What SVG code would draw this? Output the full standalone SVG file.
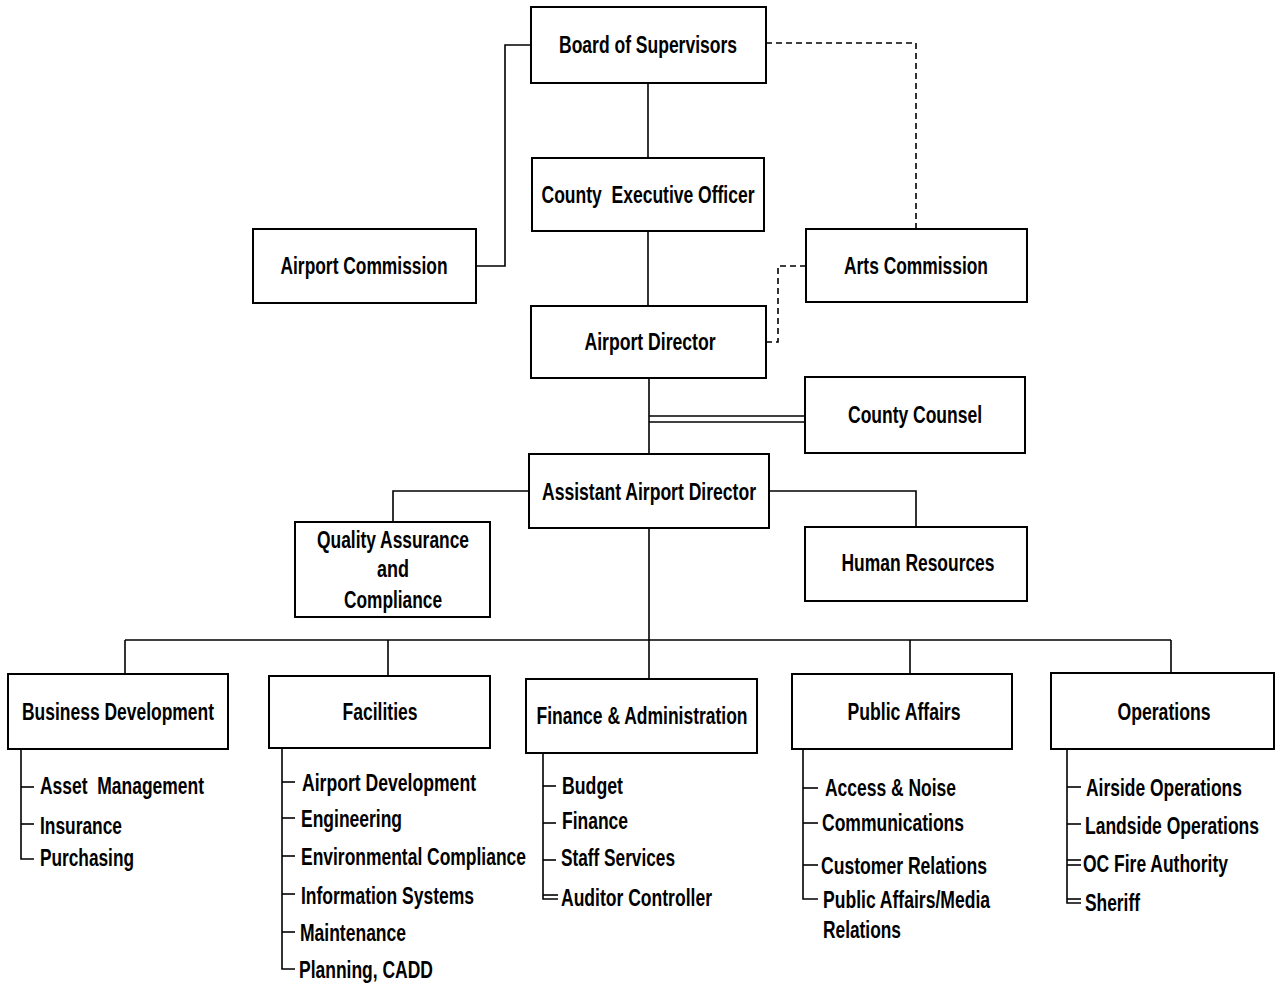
<svg xmlns="http://www.w3.org/2000/svg" width="1277" height="985" viewBox="0 0 1277 985">
<style>
.box{fill:#fff;stroke:#000;stroke-width:2}
.t{font-family:"Liberation Sans Narrow","Liberation Sans",Arial,sans-serif;font-weight:bold;font-size:23px;fill:#000}
.c{text-anchor:middle}
.ln{fill:none;stroke:#000;stroke-width:1.6}
.dash{fill:none;stroke:#000;stroke-width:1.6;stroke-dasharray:6 4}
</style>
<rect width="1277" height="985" fill="#fff"/>
<g id="connectors">
<polyline class="ln" points="531,45 505,45 505,266 476,266"/>
<polyline class="dash" points="766,43 916,43 916,229"/>
<line class="ln" x1="648" y1="83" x2="648" y2="158"/>
<line class="ln" x1="648" y1="231" x2="648" y2="306"/>
<polyline class="dash" points="806,266 778,266 778,342 766,342"/>
<line class="ln" x1="649" y1="378" x2="649" y2="454"/>
<line class="ln" x1="649" y1="416" x2="805" y2="416"/>
<line class="ln" x1="649" y1="422" x2="805" y2="422"/>
<polyline class="ln" points="529,491 393,491 393,522"/>
<polyline class="ln" points="769,491 916,491 916,527"/>
<line class="ln" x1="649" y1="528" x2="649" y2="640"/>
<line class="ln" x1="125" y1="640" x2="1171" y2="640"/>
<line class="ln" x1="125" y1="640" x2="125" y2="674"/>
<line class="ln" x1="388" y1="640" x2="388" y2="676"/>
<line class="ln" x1="649" y1="640" x2="649" y2="679"/>
<line class="ln" x1="910" y1="640" x2="910" y2="674"/>
<line class="ln" x1="1171" y1="640" x2="1171" y2="673"/>
<polyline class="ln" points="21,749 21,859 34,859"/>
<line class="ln" x1="21" y1="787" x2="34" y2="787"/>
<line class="ln" x1="21" y1="824" x2="34" y2="824"/>
<polyline class="ln" points="282,748 282,969 295,969"/>
<line class="ln" x1="282" y1="782" x2="295" y2="782"/>
<line class="ln" x1="282" y1="818" x2="295" y2="818"/>
<line class="ln" x1="282" y1="856" x2="295" y2="856"/>
<line class="ln" x1="282" y1="894" x2="295" y2="894"/>
<line class="ln" x1="282" y1="932" x2="295" y2="932"/>
<polyline class="ln" points="543,753 543,899 558,899"/>
<line class="ln" x1="543" y1="786" x2="556" y2="786"/>
<line class="ln" x1="543" y1="823" x2="556" y2="823"/>
<line class="ln" x1="543" y1="860" x2="556" y2="860"/>
<line class="ln" x1="543" y1="895" x2="558" y2="895"/>
<polyline class="ln" points="803,749 803,899 818,899"/>
<line class="ln" x1="803" y1="788" x2="818" y2="788"/>
<line class="ln" x1="803" y1="823" x2="818" y2="823"/>
<line class="ln" x1="803" y1="865" x2="818" y2="865"/>
<polyline class="ln" points="1067,749 1067,903 1081,903"/>
<line class="ln" x1="1067" y1="787" x2="1081" y2="787"/>
<line class="ln" x1="1067" y1="824" x2="1081" y2="824"/>
<line class="ln" x1="1067" y1="860" x2="1081" y2="860"/>
<line class="ln" x1="1067" y1="865" x2="1081" y2="865"/>
<line class="ln" x1="1067" y1="899" x2="1081" y2="899"/>
</g>
<g id="board"><rect class="box" x="531" y="7" width="235" height="76"/><text class="t c" transform="translate(648,52.5) scale(0.82,1)" textLength="217.1" lengthAdjust="spacingAndGlyphs">Board of Supervisors</text></g>
<g id="ceo"><rect class="box" x="532" y="158" width="232" height="73"/><text class="t c" transform="translate(648,202.5) scale(0.82,1)" textLength="259.8" lengthAdjust="spacingAndGlyphs" xml:space="preserve">County  Executive Officer</text></g>
<g id="airport-commission"><rect class="box" x="253" y="229" width="223" height="74"/><text class="t c" transform="translate(364,273.5) scale(0.82,1)" textLength="203.7" lengthAdjust="spacingAndGlyphs">Airport Commission</text></g>
<g id="arts-commission"><rect class="box" x="806" y="229" width="221" height="73"/><text class="t c" transform="translate(916,273.5) scale(0.82,1)" textLength="175.6" lengthAdjust="spacingAndGlyphs">Arts Commission</text></g>
<g id="airport-director"><rect class="box" x="531" y="306" width="235" height="72"/><text class="t c" transform="translate(650,349.5) scale(0.82,1)" textLength="159.8" lengthAdjust="spacingAndGlyphs">Airport Director</text></g>
<g id="county-counsel"><rect class="box" x="805" y="377" width="220" height="76"/><text class="t c" transform="translate(915,422.5) scale(0.82,1)" textLength="163.4" lengthAdjust="spacingAndGlyphs">County Counsel</text></g>
<g id="assistant-director"><rect class="box" x="529" y="454" width="240" height="74"/><text class="t c" transform="translate(649,499.5) scale(0.82,1)" textLength="261" lengthAdjust="spacingAndGlyphs">Assistant Airport Director</text></g>
<g id="quality-assurance"><rect class="box" x="295" y="522" width="195" height="95"/>
<text class="t c" transform="translate(393,547.5) scale(0.82,1)" textLength="185.4" lengthAdjust="spacingAndGlyphs">Quality Assurance</text>
<text class="t c" transform="translate(393,576.5) scale(0.82,1)" textLength="39" lengthAdjust="spacingAndGlyphs">and</text>
<text class="t c" transform="translate(393,607.5) scale(0.82,1)" textLength="119.5" lengthAdjust="spacingAndGlyphs">Compliance</text></g>
<g id="human-resources"><rect class="box" x="805" y="527" width="222" height="74"/><text class="t c" transform="translate(918,570.5) scale(0.82,1)" textLength="186.6" lengthAdjust="spacingAndGlyphs">Human Resources</text></g>
<g id="business-development"><rect class="box" x="8" y="674" width="220" height="75"/><text class="t c" transform="translate(118,719.5) scale(0.82,1)" textLength="234.1" lengthAdjust="spacingAndGlyphs">Business Development</text>
<text class="t" transform="translate(40,793.5) scale(0.82,1)" textLength="200" lengthAdjust="spacingAndGlyphs" xml:space="preserve">Asset  Management</text>
<text class="t" transform="translate(40,833.5) scale(0.82,1)" textLength="100" lengthAdjust="spacingAndGlyphs">Insurance</text>
<text class="t" transform="translate(40,865.5) scale(0.82,1)" textLength="114.6" lengthAdjust="spacingAndGlyphs">Purchasing</text></g>
<g id="facilities"><rect class="box" x="269" y="676" width="221" height="72"/><text class="t c" transform="translate(380,719.5) scale(0.82,1)" textLength="91.5" lengthAdjust="spacingAndGlyphs">Facilities</text>
<text class="t" transform="translate(302,790.5) scale(0.82,1)" textLength="212.2" lengthAdjust="spacingAndGlyphs">Airport Development</text>
<text class="t" transform="translate(301,826.5) scale(0.82,1)" textLength="123.2" lengthAdjust="spacingAndGlyphs">Engineering</text>
<text class="t" transform="translate(301,864.5) scale(0.82,1)" textLength="274.4" lengthAdjust="spacingAndGlyphs">Environmental Compliance</text>
<text class="t" transform="translate(301,903.5) scale(0.82,1)" textLength="211" lengthAdjust="spacingAndGlyphs">Information Systems</text>
<text class="t" transform="translate(300,940.5) scale(0.82,1)" textLength="129.3" lengthAdjust="spacingAndGlyphs">Maintenance</text>
<text class="t" transform="translate(299,977.5) scale(0.82,1)" textLength="163.4" lengthAdjust="spacingAndGlyphs">Planning, CADD</text></g>
<g id="finance-administration"><rect class="box" x="526" y="679" width="231" height="74"/><text class="t c" transform="translate(642,723.5) scale(0.82,1)" textLength="257.3" lengthAdjust="spacingAndGlyphs">Finance &amp; Administration</text>
<text class="t" transform="translate(562,793.5) scale(0.82,1)" textLength="74.4" lengthAdjust="spacingAndGlyphs">Budget</text>
<text class="t" transform="translate(562,828.5) scale(0.82,1)" textLength="80.5" lengthAdjust="spacingAndGlyphs">Finance</text>
<text class="t" transform="translate(561,865.5) scale(0.82,1)" textLength="139" lengthAdjust="spacingAndGlyphs">Staff Services</text>
<text class="t" transform="translate(561,905.5) scale(0.82,1)" textLength="184.1" lengthAdjust="spacingAndGlyphs">Auditor Controller</text></g>
<g id="public-affairs"><rect class="box" x="792" y="674" width="220" height="75"/><text class="t c" transform="translate(904,719.5) scale(0.82,1)" textLength="137.8" lengthAdjust="spacingAndGlyphs">Public Affairs</text>
<text class="t" transform="translate(825,795.5) scale(0.82,1)" textLength="159.8" lengthAdjust="spacingAndGlyphs">Access &amp; Noise</text>
<text class="t" transform="translate(822,830.5) scale(0.82,1)" textLength="173.2" lengthAdjust="spacingAndGlyphs">Communications</text>
<text class="t" transform="translate(821,873.5) scale(0.82,1)" textLength="202.4" lengthAdjust="spacingAndGlyphs">Customer Relations</text>
<text class="t" transform="translate(823,907.5) scale(0.82,1)" textLength="203.7" lengthAdjust="spacingAndGlyphs">Public Affairs/Media</text>
<text class="t" transform="translate(823,937.5) scale(0.82,1)" textLength="95.1" lengthAdjust="spacingAndGlyphs">Relations</text></g>
<g id="operations"><rect class="box" x="1051" y="673" width="223" height="76"/><text class="t c" transform="translate(1164,719.5) scale(0.82,1)" textLength="113.4" lengthAdjust="spacingAndGlyphs">Operations</text>
<text class="t" transform="translate(1086,795.5) scale(0.82,1)" textLength="190.2" lengthAdjust="spacingAndGlyphs">Airside Operations</text>
<text class="t" transform="translate(1085,833.5) scale(0.82,1)" textLength="212.2" lengthAdjust="spacingAndGlyphs">Landside Operations</text>
<text class="t" transform="translate(1083,871.5) scale(0.82,1)" textLength="176.8" lengthAdjust="spacingAndGlyphs">OC Fire Authority</text>
<text class="t" transform="translate(1085,910.5) scale(0.82,1)" textLength="67.1" lengthAdjust="spacingAndGlyphs">Sheriff</text></g>
</svg>
